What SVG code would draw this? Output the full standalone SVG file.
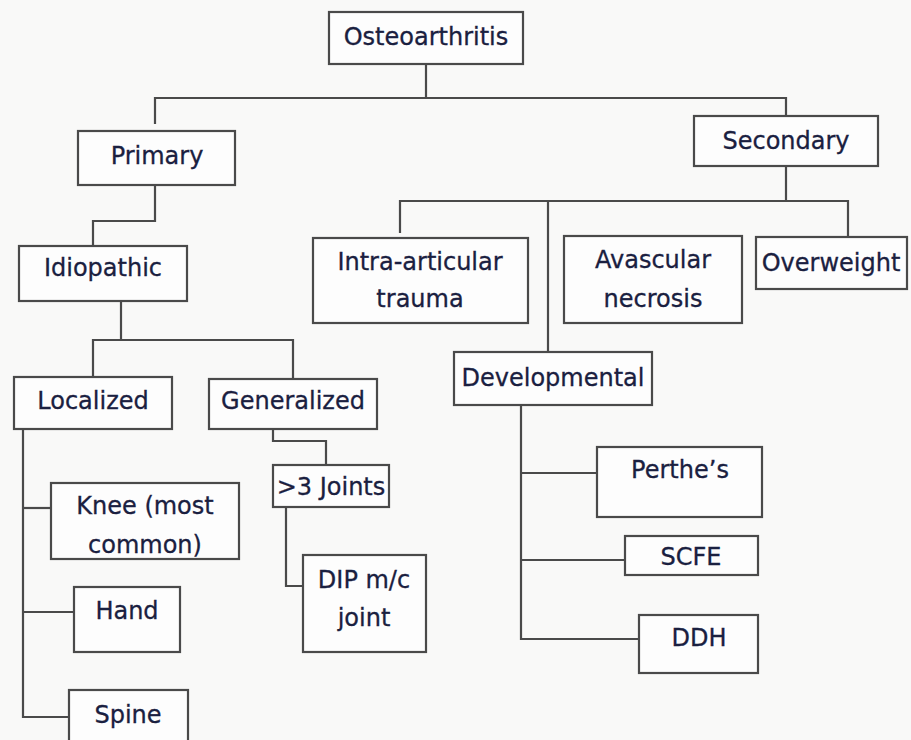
<svg xmlns="http://www.w3.org/2000/svg" width="911" height="740" viewBox="0 0 911 740">
  <style>
    .box { fill: #fdfdfd; stroke: #4a4a4a; stroke-width: 2.2; }
    .lbl { font-family: "DejaVu Sans", "Liberation Sans", sans-serif; font-size: 24px; fill: #1a2040; stroke: #1a2040; stroke-width: 0.3; text-anchor: middle; }
    .con { fill: none; stroke: #4a4a4a; stroke-width: 2.2; stroke-linejoin: miter; }
  </style>
  <rect x="0" y="0" width="911" height="740" fill="#f9f9f8"/>

  <g id="connectors">
    <polyline class="con" points="426,64 426,98"/>
    <polyline class="con" points="155,124 155,98 786,98 786,116"/>
    <polyline class="con" points="155,185 155,221 93,221 93,246"/>
    <polyline class="con" points="786,166 786,201"/>
    <polyline class="con" points="400,233 400,201 848,201 848,237"/>
    <polyline class="con" points="548,201 548,352"/>
    <polyline class="con" points="121,301 121,340"/>
    <polyline class="con" points="93,377 93,340 293,340 293,379"/>
    <polyline class="con" points="23,429 23,717 69,717"/>
    <polyline class="con" points="23,508 51,508"/>
    <polyline class="con" points="23,612 74,612"/>
    <polyline class="con" points="273,429 273,441 326,441 326,465"/>
    <polyline class="con" points="286,507 286,586 303,586"/>
    <polyline class="con" points="521,405 521,639 639,639"/>
    <polyline class="con" points="521,473 597,473"/>
    <polyline class="con" points="521,560 625,560"/>
  </g>

  <g id="osteoarthritis">
    <rect class="box" x="329" y="12" width="194" height="52"/>
    <text class="lbl" x="426" y="45">Osteoarthritis</text>
  </g>
  <g id="primary">
    <rect class="box" x="78" y="131" width="157" height="54"/>
    <text class="lbl" x="157" y="164">Primary</text>
  </g>
  <g id="secondary">
    <rect class="box" x="694" y="116" width="184" height="50"/>
    <text class="lbl" x="786" y="149">Secondary</text>
  </g>
  <g id="idiopathic">
    <rect class="box" x="19" y="246" width="168" height="55"/>
    <text class="lbl" x="103" y="276">Idiopathic</text>
  </g>
  <g id="intra-articular-trauma">
    <rect class="box" x="313" y="238" width="215" height="85"/>
    <text class="lbl" x="420" y="270">Intra-articular</text>
    <text class="lbl" x="420" y="307">trauma</text>
  </g>
  <g id="avascular-necrosis">
    <rect class="box" x="564" y="236" width="178" height="87"/>
    <text class="lbl" x="653" y="268">Avascular</text>
    <text class="lbl" x="653" y="307">necrosis</text>
  </g>
  <g id="overweight">
    <rect class="box" x="756" y="237" width="151" height="52"/>
    <text class="lbl" x="831" y="271">Overweight</text>
  </g>
  <g id="developmental">
    <rect class="box" x="454" y="352" width="198" height="53"/>
    <text class="lbl" x="553" y="386">Developmental</text>
  </g>
  <g id="localized">
    <rect class="box" x="14" y="377" width="158" height="52"/>
    <text class="lbl" x="93" y="409">Localized</text>
  </g>
  <g id="generalized">
    <rect class="box" x="209" y="379" width="168" height="50"/>
    <text class="lbl" x="293" y="409">Generalized</text>
  </g>
  <g id="knee">
    <rect class="box" x="51" y="483" width="188" height="76"/>
    <text class="lbl" x="145" y="514">Knee (most</text>
    <text class="lbl" x="145" y="553">common)</text>
  </g>
  <g id="hand">
    <rect class="box" x="74" y="587" width="106" height="65"/>
    <text class="lbl" x="127" y="619">Hand</text>
  </g>
  <g id="spine">
    <rect class="box" x="69" y="690" width="119" height="60"/>
    <text class="lbl" x="128" y="723">Spine</text>
  </g>
  <g id="gt3-joints">
    <rect class="box" x="273" y="465" width="116" height="42"/>
    <text class="lbl" x="331" y="495">&gt;3 Joints</text>
  </g>
  <g id="dip-joint">
    <rect class="box" x="303" y="555" width="123" height="97"/>
    <text class="lbl" x="364" y="588">DIP m/c</text>
    <text class="lbl" x="364" y="626">joint</text>
  </g>
  <g id="perthes">
    <rect class="box" x="597" y="447" width="165" height="70"/>
    <text class="lbl" x="680" y="478">Perthe’s</text>
  </g>
  <g id="scfe">
    <rect class="box" x="625" y="536" width="133" height="39"/>
    <text class="lbl" x="691" y="565">SCFE</text>
  </g>
  <g id="ddh">
    <rect class="box" x="639" y="615" width="119" height="58"/>
    <text class="lbl" x="699" y="646">DDH</text>
  </g>
</svg>
